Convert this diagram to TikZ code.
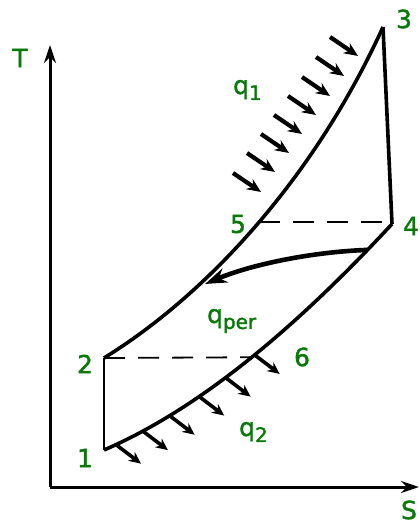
\documentclass[tikz,border=0pt]{standalone}
\usepackage{fontspec}
\setmainfont[FakeBold=1.6]{DejaVu Sans}
\usetikzlibrary{arrows.meta}
\definecolor{lblgreen}{RGB}{10,120,10}
\tikzset{
  curve/.style={line width=3.6bp, line join=round},
  axis/.style={line width=3bp, -{Stealth[length=18bp,width=12bp]}},
  dashline/.style={line width=1.8bp, dash pattern=on 21bp off 13bp},
  heat/.style={line width=4.2bp, -{Stealth[length=14bp,width=12bp]}},
  heatout/.style={line width=3.6bp, -{Stealth[length=12bp,width=11bp]}},
  bigarrow/.style={line width=4.6bp, -{Stealth[length=22bp,width=15bp]}},
  lbl/.style={text=lblgreen, font=\fontsize{25}{28}\selectfont, inner sep=0pt},
}
\newcommand{\subtxt}[1]{\raisebox{-6bp}{\fontsize{20}{20}\selectfont #1}}
\begin{document}
\begin{tikzpicture}[x=1bp,y=-1bp]
\useasboundingbox (0,0) rectangle (419,524);
% points
\coordinate (p1) at (104,450);
\coordinate (p2) at (104,358);
\coordinate (p3) at (383,27);
\coordinate (p4) at (392,224);
\coordinate (o) at (50,487);
\coordinate (ty) at (50,45);
\coordinate (sx) at (419,487);
\coordinate (ae) at (205,284);
\path (p2) .. controls (214,290) and (318,170) .. (p3) coordinate[pos=0.495] (p5);
\path (p1) .. controls (204,407) and (302,321) .. (p4)
  coordinate[pos=0.5] (p6) coordinate[pos=0.91] (as)
  coordinate[pos=0.04] (h1) coordinate[pos=0.13] (h2) coordinate[pos=0.22] (h3)
  coordinate[pos=0.32] (h4) coordinate[pos=0.41] (h5) coordinate[pos=0.51] (h6);
% axes
\draw[axis] (o) -- (ty);
\draw[axis] (o) -- (sx);
% cycle
\draw[curve] (p2) .. controls (214,290) and (318,170) .. (p3);
\draw[curve] (p3) -- (p4);
\draw[curve] (p1) .. controls (204,407) and (302,321) .. (p4);
\draw[line width=2.8bp] (p1) -- (p2);
\draw[dashline] (p2) -- (p6);
\draw[dashline] (p5 -| p5) -- (p5 -| p4);
% regenerator arrow
\draw[bigarrow] (as) .. controls (310,252) and (250,265) .. (ae);
% q1 arrows
\foreach \x/\y in {233/173, 247/153, 261/134, 274/115, 288/96, 302/77, 316/57, 330/37}
  \draw[heat] (\x,\y) -- ++(28,19);
% q2 arrows
\foreach \i in {1,...,6}
  \draw[heatout] (h\i) -- ++(25,19);
% labels
\node[lbl] (l1) at (85,458) {1};
\node[lbl] (l2) at (85,364) {2};
\node[lbl] (l3) at (404,19) {3};
\node[lbl] (l4) at (411,226) {4};
\node[lbl] (l5) at (238,224) {5};
\node[lbl] (l6) at (302,357) {6};
\node[lbl] (lT) at (20,58) {T};
\node[lbl] (lS) at (409,510) {S};
\node[lbl, anchor=west] (q1) at (233,90) {q\subtxt{1}};
\node[lbl, anchor=west] (qp) at (207,321) {q\subtxt{per}};
\node[lbl, anchor=west] (q2) at (239,432) {q\subtxt{2}};
\end{tikzpicture}
\end{document}
